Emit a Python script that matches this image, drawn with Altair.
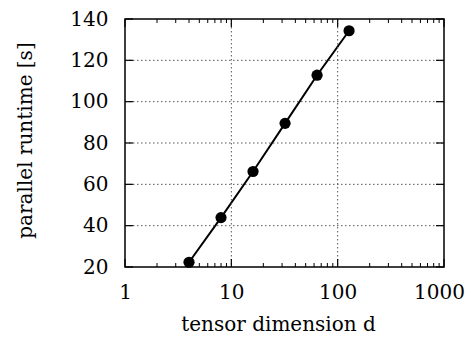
import altair as alt
import pandas as pd

# data
dims = [4, 8, 16, 32, 64, 128]
runtime = [22.3, 43.9, 66.2, 89.5, 112.8, 134.3]

x_major = [1, 10, 100, 1000]
x_minor = [2, 3, 4, 5, 6, 7, 8, 9,
           20, 30, 40, 50, 60, 70, 80, 90,
           200, 300, 400, 500, 600, 700, 800, 900]
x_grid = [10, 100]
y_major = [20, 40, 60, 80, 100, 120, 140]
y_grid = [40, 60, 80, 100, 120]

W, H = 319, 248
FONT = "DejaVu Serif"

xs = alt.Scale(type="log", domain=[1, 1000], nice=False)
ys = alt.Scale(domain=[20, 140], nice=False, zero=False)

xa = alt.Axis(
    values=x_major, format="d", grid=False, ticks=False, tickSize=0,
    domain=False, labelPadding=15, labelFlush=False,
    labelOffset={"condition": {"test": "datum.value == 1000", "value": -5}, "value": 0},
    title="tensor dimension d",
    titleX=153, titleY=63, titleBaseline="alphabetic", titleAlign="center",
    labelFont=FONT, titleFont=FONT)
ya = alt.Axis(
    values=y_major, format="d", grid=False, ticks=False, tickSize=0,
    domain=False, labelPadding=17, labelFlush=False, title="parallel runtime [s]",
    titleX=-94, titleY=121, titleAngle=-90, titleBaseline="alphabetic",
    titleAlign="center", labelFont=FONT, titleFont=FONT)

df = pd.DataFrame({"x": dims, "y": runtime})

line = alt.Chart(df).mark_line(color="black", strokeWidth=2).encode(
    x=alt.X("x:Q", scale=xs, axis=xa),
    y=alt.Y("y:Q", scale=ys, axis=ya),
)
points = alt.Chart(df).mark_circle(size=125, color="black", opacity=1).encode(
    x=alt.X("x:Q", scale=xs, axis=xa), y=alt.Y("y:Q", scale=ys, axis=ya)
)

def xrule(vals, y1, y2, dash=None, color="black", width=1):
    kw = dict(color=color, strokeWidth=width)
    if dash:
        kw["strokeDash"] = dash
    return alt.Chart(pd.DataFrame({"x": vals})).mark_rule(**kw).encode(
        x=alt.X("x:Q", scale=xs, axis=xa), y=alt.value(y1), y2=alt.value(y2))

def yrule(vals, x1, x2, dash=None, color="black", width=1):
    kw = dict(color=color, strokeWidth=width)
    if dash:
        kw["strokeDash"] = dash
    return alt.Chart(pd.DataFrame({"y": vals})).mark_rule(**kw).encode(
        y=alt.Y("y:Q", scale=ys, axis=ya), x=alt.value(x1), x2=alt.value(x2))

grid = [
    xrule(x_grid, 0, H, dash=[1.5, 2.5], color="#555555"),
    yrule(y_grid, 0, W, dash=[1.5, 2.5], color="#555555"),
]
ticks = [
    xrule(x_major, H, H - 8, width=1.2),
    xrule(x_minor, H, H - 4),
    xrule(x_major, 0, 8, width=1.2),
    xrule(x_minor, 0, 4),
    yrule(y_major, 0, 8, width=1.2),
    yrule(y_major, W, W - 8, width=1.2),
]

chart = alt.layer(line, *grid, points, *ticks).properties(
    width=W, height=H,
    autosize=alt.AutoSizeParams(type="none"),
    padding={"left": 117, "top": 11, "right": 21, "bottom": 71},
).configure(
    font=FONT
).configure_view(
    stroke="black", strokeWidth=1.5
).configure_axis(
    labelFont=FONT, titleFont=FONT, labelFontSize=20, titleFontSize=20,
    labelColor="black", titleColor="black", titleFontWeight="normal",
)

chart.save("out.html", embed_options={"renderer": "svg", "actions": False})
